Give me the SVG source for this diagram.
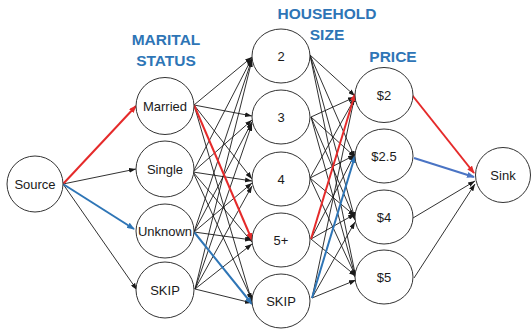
<svg xmlns="http://www.w3.org/2000/svg" width="531" height="335" viewBox="0 0 531 335">
  <style>
    .node { fill: #ffffff; stroke: #333333; stroke-width: 1; }
    .label { font-family: "Liberation Sans", Arial, sans-serif; font-size: 13px; fill: #1a1a1a; text-anchor: middle; }
    .title { font-family: "Liberation Sans", Arial, sans-serif; font-size: 15.5px; font-weight: bold; fill: #2E75B6; text-anchor: middle; }
    .edge { stroke: #1a1a1a; stroke-width: 0.9; fill: none; marker-end: url(#arrow-k); }
    .red { stroke: #E52A2A; stroke-width: 2; fill: none; marker-end: url(#arrow-r); }
    .blue { stroke: #2E75B6; stroke-width: 2; fill: none; marker-end: url(#arrow-b); }
    .blue2 { stroke: #4A74C4; stroke-width: 2; fill: none; marker-end: url(#arrow-b2); }
  </style>
  <defs>
    <marker id="arrow-k" markerUnits="userSpaceOnUse" markerWidth="7" markerHeight="5" refX="7" refY="2.5" orient="auto">
      <path d="M0,0 L7,2.5 L0,5 z" fill="#1a1a1a"/>
    </marker>
    <marker id="arrow-r" markerUnits="userSpaceOnUse" markerWidth="8" markerHeight="6" refX="7" refY="3" orient="auto">
      <path d="M0,0 L8,3 L0,6 z" fill="#E52A2A"/>
    </marker>
    <marker id="arrow-b" markerUnits="userSpaceOnUse" markerWidth="8" markerHeight="6" refX="7" refY="3" orient="auto">
      <path d="M0,0 L8,3 L0,6 z" fill="#2E75B6"/>
    </marker>
    <marker id="arrow-b2" markerUnits="userSpaceOnUse" markerWidth="8" markerHeight="6" refX="7" refY="3" orient="auto">
      <path d="M0,0 L8,3 L0,6 z" fill="#4A74C4"/>
    </marker>
  </defs>

  <rect width="531" height="335" fill="#ffffff"/>

  <!-- column headings -->
  <g id="titles">
    <text class="title" x="166" y="45">MARITAL</text>
    <text class="title" x="166" y="66">STATUS</text>
    <text class="title" x="327" y="19">HOUSEHOLD</text>
    <text class="title" x="327" y="40">SIZE</text>
    <text class="title" x="393" y="62">PRICE</text>
  </g>

  <g id="connectors">
    <!-- source to marital status -->
    <line class="edge" x1="63" y1="184" x2="136" y2="169"/>
    <line class="edge" x1="63" y1="184" x2="137" y2="290"/>

    <!-- marital status to household size -->
    <line class="edge" x1="194" y1="105" x2="252" y2="57"/>
    <line class="edge" x1="194" y1="105" x2="252" y2="116"/>
    <line class="edge" x1="194" y1="105" x2="252" y2="179"/>
    <line class="edge" x1="194" y1="105" x2="252" y2="302"/>

    <line class="edge" x1="193" y1="172" x2="252" y2="58"/>
    <line class="edge" x1="193" y1="172" x2="252" y2="120"/>
    <line class="edge" x1="193" y1="172" x2="252" y2="181"/>
    <line class="edge" x1="193" y1="172" x2="252" y2="242"/>
    <line class="edge" x1="193" y1="172" x2="252" y2="300"/>

    <line class="edge" x1="194" y1="232" x2="252" y2="59"/>
    <line class="edge" x1="194" y1="232" x2="252" y2="122"/>
    <line class="edge" x1="194" y1="232" x2="252" y2="183"/>
    <line class="edge" x1="194" y1="232" x2="252" y2="240"/>

    <line class="edge" x1="195" y1="289" x2="252" y2="60"/>
    <line class="edge" x1="195" y1="289" x2="252" y2="124"/>
    <line class="edge" x1="195" y1="289" x2="252" y2="186"/>
    <line class="edge" x1="195" y1="289" x2="252" y2="244"/>
    <line class="edge" x1="195" y1="289" x2="252" y2="303"/>

    <!-- household size to price -->
    <line class="edge" x1="310" y1="55" x2="355" y2="96"/>
    <line class="edge" x1="310" y1="55" x2="355" y2="158"/>
    <line class="edge" x1="310" y1="55" x2="355" y2="219"/>
    <line class="edge" x1="310" y1="55" x2="356" y2="278"/>

    <line class="edge" x1="311" y1="117" x2="355" y2="97"/>
    <line class="edge" x1="311" y1="117" x2="355" y2="157"/>
    <line class="edge" x1="311" y1="117" x2="355" y2="220"/>
    <line class="edge" x1="311" y1="117" x2="356" y2="279"/>

    <line class="edge" x1="310" y1="178" x2="355" y2="98"/>
    <line class="edge" x1="310" y1="178" x2="355" y2="155"/>
    <line class="edge" x1="310" y1="178" x2="355" y2="216"/>
    <line class="edge" x1="310" y1="178" x2="356" y2="277"/>

    <line class="edge" x1="311" y1="239" x2="355" y2="154"/>
    <line class="edge" x1="311" y1="239" x2="355" y2="214"/>
    <line class="edge" x1="311" y1="239" x2="356" y2="276"/>

    <line class="edge" x1="312" y1="298" x2="355" y2="95"/>
    <line class="edge" x1="312" y1="298" x2="355" y2="222"/>
    <line class="edge" x1="312" y1="298" x2="356" y2="280"/>

    <!-- price to sink -->
    <line class="edge" x1="413" y1="218" x2="475" y2="181"/>
    <line class="edge" x1="414" y1="278" x2="475" y2="184"/>

    <!-- highlighted paths -->
    <line class="red" x1="63" y1="184" x2="136" y2="106"/>
    <line class="blue" x1="63" y1="184" x2="134" y2="229"/>
    <line class="red" x1="194" y1="105" x2="252" y2="240"/>
    <line class="blue" x1="194" y1="232" x2="252" y2="304"/>
    <line class="red" x1="311" y1="239" x2="355" y2="94"/>
    <line class="blue" x1="312" y1="298" x2="355" y2="156"/>
    <line class="red" x1="412" y1="95" x2="474" y2="173"/>
    <line class="blue2" x1="414" y1="158" x2="474" y2="177"/>
  </g>

  <g id="source">
    <ellipse class="node" cx="35" cy="184" rx="28" ry="28"/>
    <text class="label" x="35" y="189">Source</text>
  </g>

  <g id="married">
    <ellipse class="node" cx="165" cy="106" rx="29" ry="28.5"/>
    <text class="label" x="165" y="111">Married</text>
  </g>
  <g id="single">
    <ellipse class="node" cx="165" cy="169" rx="29" ry="28"/>
    <text class="label" x="165" y="174">Single</text>
  </g>
  <g id="unknown">
    <ellipse class="node" cx="165" cy="231" rx="29" ry="27"/>
    <text class="label" x="165" y="236">Unknown</text>
  </g>
  <g id="marital-skip">
    <ellipse class="node" cx="165" cy="290" rx="29" ry="28"/>
    <text class="label" x="165" y="295">SKIP</text>
  </g>

  <g id="size-2">
    <ellipse class="node" cx="281" cy="56" rx="29" ry="27"/>
    <text class="label" x="281" y="61">2</text>
  </g>
  <g id="size-3">
    <ellipse class="node" cx="281" cy="117" rx="29" ry="27"/>
    <text class="label" x="281" y="122">3</text>
  </g>
  <g id="size-4">
    <ellipse class="node" cx="281" cy="179" rx="29" ry="27"/>
    <text class="label" x="281" y="184">4</text>
  </g>
  <g id="size-5plus">
    <ellipse class="node" cx="281" cy="240" rx="29" ry="27"/>
    <text class="label" x="281" y="245">5+</text>
  </g>
  <g id="size-skip">
    <ellipse class="node" cx="281" cy="301" rx="29" ry="27"/>
    <text class="label" x="281" y="306">SKIP</text>
  </g>

  <g id="price-2">
    <ellipse class="node" cx="384" cy="95" rx="29" ry="27.5"/>
    <text class="label" x="384" y="100">$2</text>
  </g>
  <g id="price-2-5">
    <ellipse class="node" cx="384" cy="156" rx="29" ry="27"/>
    <text class="label" x="384" y="161">$2.5</text>
  </g>
  <g id="price-4">
    <ellipse class="node" cx="384" cy="217" rx="29" ry="27"/>
    <text class="label" x="384" y="222">$4</text>
  </g>
  <g id="price-5">
    <ellipse class="node" cx="384" cy="277" rx="29" ry="27"/>
    <text class="label" x="384" y="282">$5</text>
  </g>

  <g id="sink">
    <ellipse class="node" cx="503" cy="175" rx="27.5" ry="27.5"/>
    <text class="label" x="503" y="180">Sink</text>
  </g>
</svg>
